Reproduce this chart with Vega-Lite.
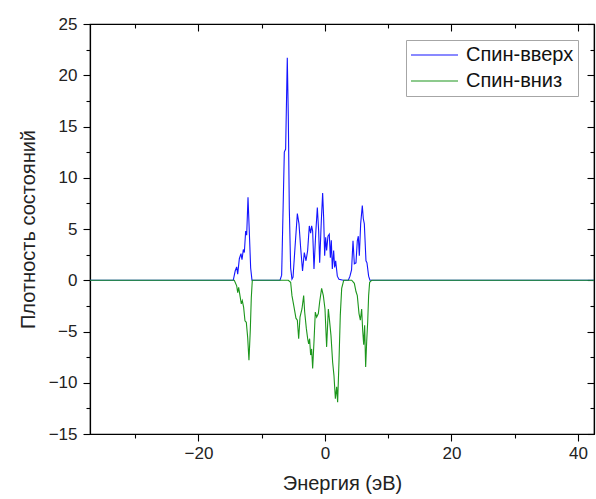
{
  "$schema": "https://vega.github.io/schema/vega-lite/v6.json",
  "width": 504,
  "height": 410,
  "autosize": {"type": "none"},
  "padding": {"left": 90, "top": 24, "right": 2, "bottom": 65},
  "background": "#ffffff",
  "config": {
    "view": {"stroke": "#000000", "strokeWidth": 1.2},
    "font": "Liberation Sans",
    "axis": {"grid": false, "domainColor": "#000000", "domainWidth": 1.2, "tickColor": "#000000", "tickWidth": 1.1, "labelColor": "#222222", "titleColor": "#222222", "labelFont": "Liberation Sans", "titleFont": "Liberation Sans", "titleFontWeight": "normal"}
  },
  "datasets": {
    "dos": [
      {"E": -37.15, "dos": 0, "spin": "Спин-вверх"},
      {"E": -14.5, "dos": 0, "spin": "Спин-вверх"},
      {"E": -14.2, "dos": 0.9, "spin": "Спин-вверх"},
      {"E": -13.96, "dos": 1.3, "spin": "Спин-вверх"},
      {"E": -13.8, "dos": 0.6, "spin": "Спин-вверх"},
      {"E": -13.54, "dos": 2.1, "spin": "Спин-вверх"},
      {"E": -13.28, "dos": 2.6, "spin": "Спин-вверх"},
      {"E": -13.12, "dos": 2.0, "spin": "Спин-вверх"},
      {"E": -12.91, "dos": 3.0, "spin": "Спин-вверх"},
      {"E": -12.75, "dos": 2.7, "spin": "Спин-вверх"},
      {"E": -12.54, "dos": 4.8, "spin": "Спин-вверх"},
      {"E": -12.38, "dos": 4.4, "spin": "Спин-вверх"},
      {"E": -12.17, "dos": 8.1, "spin": "Спин-вверх"},
      {"E": -11.97, "dos": 4.8, "spin": "Спин-вверх"},
      {"E": -11.75, "dos": 1.2, "spin": "Спин-вверх"},
      {"E": -11.54, "dos": 0, "spin": "Спин-вверх"},
      {"E": -7.11, "dos": 0, "spin": "Спин-вверх"},
      {"E": -6.85, "dos": 0.5, "spin": "Спин-вверх"},
      {"E": -6.43, "dos": 12.5, "spin": "Спин-вверх"},
      {"E": -6.22, "dos": 12.8, "spin": "Спин-вверх"},
      {"E": -5.96, "dos": 21.7, "spin": "Спин-вверх"},
      {"E": -5.8, "dos": 16.0, "spin": "Спин-вверх"},
      {"E": -5.64, "dos": 7.0, "spin": "Спин-вверх"},
      {"E": -5.43, "dos": 1.2, "spin": "Спин-вверх"},
      {"E": -5.22, "dos": 0.1, "spin": "Спин-вверх"},
      {"E": -5.05, "dos": 0.3, "spin": "Спин-вверх"},
      {"E": -4.74, "dos": 3.2, "spin": "Спин-вверх"},
      {"E": -4.37, "dos": 6.5, "spin": "Спин-вверх"},
      {"E": -4.11, "dos": 5.5, "spin": "Спин-вверх"},
      {"E": -3.85, "dos": 3.2, "spin": "Спин-вверх"},
      {"E": -3.55, "dos": 0.9, "spin": "Спин-вверх"},
      {"E": -3.27, "dos": 2.7, "spin": "Спин-вверх"},
      {"E": -3.0, "dos": 1.9, "spin": "Спин-вверх"},
      {"E": -2.74, "dos": 2.9, "spin": "Спин-вверх"},
      {"E": -2.48, "dos": 5.3, "spin": "Спин-вверх"},
      {"E": -2.27, "dos": 4.6, "spin": "Спин-вверх"},
      {"E": -2.11, "dos": 5.3, "spin": "Спин-вверх"},
      {"E": -1.95, "dos": 4.8, "spin": "Спин-вверх"},
      {"E": -1.74, "dos": 1.1, "spin": "Спин-вверх"},
      {"E": -1.47, "dos": 4.5, "spin": "Спин-вверх"},
      {"E": -1.21, "dos": 7.1, "spin": "Спин-вверх"},
      {"E": -1.0, "dos": 4.8, "spin": "Спин-вверх"},
      {"E": -0.84, "dos": 1.7, "spin": "Спин-вверх"},
      {"E": -0.58, "dos": 5.8, "spin": "Спин-вверх"},
      {"E": -0.37, "dos": 8.5, "spin": "Спин-вверх"},
      {"E": -0.21, "dos": 6.1, "spin": "Спин-вверх"},
      {"E": -0.05, "dos": 2.4, "spin": "Спин-вверх"},
      {"E": 0.11, "dos": 4.2, "spin": "Спин-вверх"},
      {"E": 0.26, "dos": 2.9, "spin": "Спин-вверх"},
      {"E": 0.47, "dos": 4.3, "spin": "Спин-вверх"},
      {"E": 0.68, "dos": 4.5, "spin": "Спин-вверх"},
      {"E": 0.85, "dos": 2.2, "spin": "Спин-вверх"},
      {"E": 1.0, "dos": 3.9, "spin": "Спин-вверх"},
      {"E": 1.16, "dos": 1.1, "spin": "Спин-вверх"},
      {"E": 1.37, "dos": 2.9, "spin": "Спин-вверх"},
      {"E": 1.53, "dos": 1.25, "spin": "Спин-вверх"},
      {"E": 1.69, "dos": 1.9, "spin": "Спин-вверх"},
      {"E": 1.95, "dos": 0.4, "spin": "Спин-вверх"},
      {"E": 2.21, "dos": 0.1, "spin": "Спин-вверх"},
      {"E": 2.9, "dos": 0, "spin": "Спин-вверх"},
      {"E": 3.69, "dos": 0, "spin": "Спин-вверх"},
      {"E": 3.95, "dos": 0.4, "spin": "Спин-вверх"},
      {"E": 4.2, "dos": 1.0, "spin": "Спин-вверх"},
      {"E": 4.43, "dos": 3.85, "spin": "Спин-вверх"},
      {"E": 4.64, "dos": 1.6, "spin": "Спин-вверх"},
      {"E": 4.9, "dos": 1.7, "spin": "Спин-вверх"},
      {"E": 5.11, "dos": 3.85, "spin": "Спин-вверх"},
      {"E": 5.27, "dos": 4.3, "spin": "Спин-вверх"},
      {"E": 5.43, "dos": 2.4, "spin": "Спин-вверх"},
      {"E": 5.64, "dos": 5.5, "spin": "Спин-вверх"},
      {"E": 5.9, "dos": 7.3, "spin": "Спин-вверх"},
      {"E": 6.06, "dos": 6.0, "spin": "Спин-вверх"},
      {"E": 6.22, "dos": 5.5, "spin": "Спин-вверх"},
      {"E": 6.48, "dos": 1.9, "spin": "Спин-вверх"},
      {"E": 6.64, "dos": 1.7, "spin": "Спин-вверх"},
      {"E": 6.9, "dos": 0.4, "spin": "Спин-вверх"},
      {"E": 7.11, "dos": 0, "spin": "Спин-вверх"},
      {"E": 42.53, "dos": 0, "spin": "Спин-вверх"},

      {"E": -37.15, "dos": 0, "spin": "Спин-вниз"},
      {"E": -14.34, "dos": 0, "spin": "Спин-вниз"},
      {"E": -13.96, "dos": -0.54, "spin": "Спин-вниз"},
      {"E": -13.8, "dos": -1.2, "spin": "Спин-вниз"},
      {"E": -13.65, "dos": -0.7, "spin": "Спин-вниз"},
      {"E": -13.44, "dos": -1.5, "spin": "Спин-вниз"},
      {"E": -13.23, "dos": -2.3, "spin": "Спин-вниз"},
      {"E": -13.07, "dos": -2.0, "spin": "Спин-вниз"},
      {"E": -12.86, "dos": -2.65, "spin": "Спин-вниз"},
      {"E": -12.65, "dos": -3.95, "spin": "Спин-вниз"},
      {"E": -12.44, "dos": -4.1, "spin": "Спин-вниз"},
      {"E": -12.22, "dos": -5.6, "spin": "Спин-вниз"},
      {"E": -12.02, "dos": -7.8, "spin": "Спин-вниз"},
      {"E": -11.81, "dos": -4.9, "spin": "Спин-вниз"},
      {"E": -11.65, "dos": -1.7, "spin": "Спин-вниз"},
      {"E": -11.49, "dos": 0, "spin": "Спин-вниз"},
      {"E": -5.8, "dos": 0, "spin": "Спин-вниз"},
      {"E": -5.43, "dos": -0.2, "spin": "Спин-вниз"},
      {"E": -5.22, "dos": -1.5, "spin": "Спин-вниз"},
      {"E": -4.9, "dos": -2.6, "spin": "Спин-вниз"},
      {"E": -4.59, "dos": -3.7, "spin": "Спин-вниз"},
      {"E": -4.37, "dos": -3.9, "spin": "Спин-вниз"},
      {"E": -4.16, "dos": -5.7, "spin": "Спин-вниз"},
      {"E": -3.95, "dos": -3.6, "spin": "Спин-вниз"},
      {"E": -3.64, "dos": -2.8, "spin": "Спин-вниз"},
      {"E": -3.37, "dos": -1.5, "spin": "Спин-вниз"},
      {"E": -3.21, "dos": -3.1, "spin": "Спин-вниз"},
      {"E": -2.95, "dos": -4.7, "spin": "Спин-вниз"},
      {"E": -2.74, "dos": -5.7, "spin": "Спин-вниз"},
      {"E": -2.58, "dos": -6.2, "spin": "Спин-вниз"},
      {"E": -2.43, "dos": -5.7, "spin": "Спин-вниз"},
      {"E": -2.27, "dos": -7.3, "spin": "Спин-вниз"},
      {"E": -2.11, "dos": -6.7, "spin": "Спин-вниз"},
      {"E": -1.95, "dos": -8.6, "spin": "Спин-вниз"},
      {"E": -1.74, "dos": -6.0, "spin": "Спин-вниз"},
      {"E": -1.53, "dos": -3.1, "spin": "Спин-вниз"},
      {"E": -1.32, "dos": -3.6, "spin": "Спин-вниз"},
      {"E": -1.05, "dos": -3.25, "spin": "Спин-вниз"},
      {"E": -0.84, "dos": -2.1, "spin": "Спин-вниз"},
      {"E": -0.53, "dos": -0.8, "spin": "Спин-вниз"},
      {"E": -0.26, "dos": -1.5, "spin": "Спин-вниз"},
      {"E": 0.0, "dos": -2.8, "spin": "Спин-вниз"},
      {"E": 0.26, "dos": -6.5, "spin": "Спин-вниз"},
      {"E": 0.53, "dos": -2.8, "spin": "Спин-вниз"},
      {"E": 0.68, "dos": -3.7, "spin": "Спин-вниз"},
      {"E": 0.95, "dos": -5.4, "spin": "Спин-вниз"},
      {"E": 1.21, "dos": -8.0, "spin": "Спин-вниз"},
      {"E": 1.42, "dos": -9.3, "spin": "Спин-вниз"},
      {"E": 1.64, "dos": -11.55, "spin": "Спин-вниз"},
      {"E": 1.85, "dos": -10.4, "spin": "Спин-вниз"},
      {"E": 2.0, "dos": -11.9, "spin": "Спин-вниз"},
      {"E": 2.21, "dos": -8.0, "spin": "Спин-вниз"},
      {"E": 2.42, "dos": -3.4, "spin": "Спин-вниз"},
      {"E": 2.64, "dos": -0.8, "spin": "Спин-вниз"},
      {"E": 2.96, "dos": 0, "spin": "Спин-вниз"},
      {"E": 4.22, "dos": 0, "spin": "Спин-вниз"},
      {"E": 4.64, "dos": -0.3, "spin": "Спин-вниз"},
      {"E": 4.9, "dos": -1.1, "spin": "Спин-вниз"},
      {"E": 5.11, "dos": -1.5, "spin": "Спин-вниз"},
      {"E": 5.38, "dos": -3.25, "spin": "Спин-вниз"},
      {"E": 5.59, "dos": -3.9, "spin": "Спин-вниз"},
      {"E": 5.8, "dos": -2.8, "spin": "Спин-вниз"},
      {"E": 5.96, "dos": -4.9, "spin": "Спин-вниз"},
      {"E": 6.12, "dos": -6.3, "spin": "Спин-вниз"},
      {"E": 6.27, "dos": -4.4, "spin": "Спин-вниз"},
      {"E": 6.43, "dos": -8.45, "spin": "Спин-вниз"},
      {"E": 6.59, "dos": -6.0, "spin": "Спин-вниз"},
      {"E": 6.75, "dos": -4.1, "spin": "Спин-вниз"},
      {"E": 6.9, "dos": -1.5, "spin": "Спин-вниз"},
      {"E": 7.06, "dos": -0.2, "spin": "Спин-вниз"},
      {"E": 7.38, "dos": 0, "spin": "Спин-вниз"},
      {"E": 42.53, "dos": 0, "spin": "Спин-вниз"}
    ]
  },
  "data": {"name": "dos"},
  "resolve": {"axis": {"x": "independent", "y": "independent"}},
  "layer": [
    {
      "transform": [{"filter": "datum.spin === 'Спин-вверх'"}],
      "mark": {"type": "line", "strokeWidth": 1.1},
      "encoding": {
        "x": {
          "field": "E", "type": "quantitative",
          "scale": {"domain": [-37.15, 42.53], "nice": false, "zero": false},
          "axis": {
            "orient": "bottom", "title": "Энергия (эВ)",
            "values": [-30, -20, -10, 0, 10, 20, 30, 40],
            "labelExpr": "datum.value % 20 === 0 ? datum.label : ''",
            "tickSize": {"condition": {"test": "datum.value % 20 !== 0", "value": 4}, "value": 7},
            "labelFontSize": 17, "labelPadding": 4, "titleFontSize": 20, "titlePadding": 12
          }
        },
        "y": {
          "field": "dos", "type": "quantitative",
          "scale": {"domain": [-15, 25], "nice": false, "zero": false},
          "axis": {
            "orient": "left", "title": "Плотность состояний",
            "values": [-15, -12.5, -10, -7.5, -5, -2.5, 0, 2.5, 5, 7.5, 10, 12.5, 15, 17.5, 20, 22.5, 25],
            "labelExpr": "datum.value % 5 === 0 ? datum.label : ''",
            "tickSize": {"condition": {"test": "datum.value % 5 !== 0", "value": 4}, "value": 7},
            "labelFontSize": 17, "labelPadding": 6, "titleFontSize": 20, "titlePadding": 10
          }
        },
        "color": {
          "field": "spin", "type": "nominal",
          "scale": {"domain": ["Спин-вверх", "Спин-вниз"], "range": ["#1414ff", "#1c961c"]},
          "legend": {
            "title": null, "orient": "none", "legendX": 316, "legendY": 16,
            "symbolType": "stroke", "symbolSize": 2209, "symbolStrokeWidth": 1.1,
            "labelFontSize": 20, "labelFont": "Liberation Sans", "labelColor": "#111111",
            "labelOffset": 7, "clipHeight": 22, "rowPadding": 4, "padding": 4,
            "strokeColor": "#a6a6a6", "fillColor": "#ffffff"
          }
        }
      }
    },
    {
      "transform": [{"filter": "datum.spin === 'Спин-вниз'"}],
      "mark": {"type": "line", "strokeWidth": 1.1},
      "encoding": {
        "x": {
          "field": "E", "type": "quantitative",
          "axis": {
            "orient": "top", "title": null, "labels": false, "domain": true,
            "values": [-30, -20, -10, 0, 10, 20, 30, 40],
            "tickSize": {"condition": {"test": "datum.value % 20 !== 0", "value": -4}, "value": -7}
          }
        },
        "y": {
          "field": "dos", "type": "quantitative",
          "axis": {
            "orient": "right", "title": null, "labels": false, "domain": true,
            "values": [-15, -12.5, -10, -7.5, -5, -2.5, 0, 2.5, 5, 7.5, 10, 12.5, 15, 17.5, 20, 22.5, 25],
            "tickSize": {"condition": {"test": "datum.value % 5 !== 0", "value": -4}, "value": -7}
          }
        },
        "color": {"field": "spin", "type": "nominal"}
      }
    }
  ]
}
